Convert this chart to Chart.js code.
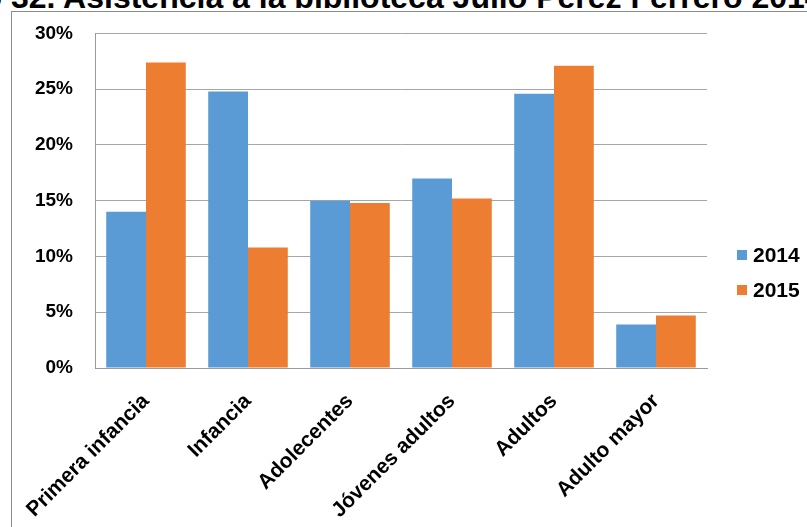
<!DOCTYPE html>
<html>
<head>
<meta charset="utf-8">
<script src="https://cdn.jsdelivr.net/npm/chart.js@4/dist/chart.umd.min.js"></script>
<style>
    html, body { margin: 0; padding: 0; background: #fff; overflow: hidden; }
    #wrap { position: relative; width: 807px; height: 527px; overflow: hidden; }
    #frame { position: absolute; left: 11px; top: 11px; width: 900px; height: 600px; border: 1px solid #8c8c8c; }
    #title { position: absolute; left: -110px; top: -21px; line-height: 32px; white-space: nowrap;
             font: bold 32px "Liberation Sans", Arial, sans-serif; color: #000; }
    #chart { position: absolute; left: 0; top: 0; }
</style>
</head>
<body>
<div id="wrap">
    <div id="title">Gráfico 32. Asistencia a la biblioteca Julio Pérez Ferrero 2014-2015</div>
    <div id="frame"></div>
    <canvas id="chart" width="807" height="527"></canvas>
</div>
<script>
/* global Chart */

var categories = ['Primera infancia', 'Infancia', 'Adolecentes', 'Jóvenes adultos', 'Adultos', 'Adulto mayor'];
var seriesNames = ['2014', '2015'];
var values2014 = [14.0, 24.8, 15.0, 17.0, 24.6, 3.9];
var values2015 = [27.4, 10.8, 14.8, 15.2, 27.1, 4.7];
var yTicks = [0, 5, 10, 15, 20, 25, 30];

var blue = '#5B9BD5';
var orange = '#ED7D31';
var fontFamily = '"Liberation Sans", Arial, sans-serif';

// legend drawn by hand so it can sit where the original one sits
var sideLegend = {
    id: 'sideLegend',
    afterDraw: function (chart) {
        var ctx = chart.ctx;
        var rows = [255, 290];
        ctx.save();
        ctx.font = 'bold 21px ' + fontFamily;
        ctx.textBaseline = 'middle';
        chart.data.datasets.forEach(function (ds, i) {
            ctx.fillStyle = ds.backgroundColor;
            ctx.fillRect(737, rows[i] - 5, 10, 10);
            ctx.fillStyle = '#000';
            ctx.fillText(ds.label, 753, rows[i] + 1);
        });
        ctx.restore();
    }
};

var config = {
    type: 'bar',
    data: {
        labels: categories,
        datasets: [{
            label: seriesNames[0],
            data: values2014,
            backgroundColor: blue
        }, {
            label: seriesNames[1],
            data: values2015,
            backgroundColor: orange
        }]
    },
    options: {
        responsive: false,
        animation: false,
        layout: { padding: { left: 0, right: 100, top: 33, bottom: 0 } },
        datasets: { bar: { categoryPercentage: 0.78, barPercentage: 1.0 } },
        plugins: {
            legend: { display: false },
            tooltip: { enabled: false }
        },
        scales: {
            x: {
                grid: { display: false },
                border: { display: true, color: '#9a9a9a', width: 1 },
                ticks: {
                    color: '#000',
                    font: { family: fontFamily, size: 21, weight: 'bold' },
                    minRotation: 45,
                    maxRotation: 45,
                    padding: 13
                },
                afterFit: function (scale) { scale.height = 159; }
            },
            y: {
                min: 0,
                max: 30,
                afterBuildTicks: function (scale) {
                    scale.ticks = yTicks.map(function (v) { return { value: v }; });
                },
                grid: { color: '#a6a6a6', lineWidth: 1, drawTicks: false },
                border: { display: true, color: '#9a9a9a', width: 1 },
                ticks: {
                    color: '#000',
                    padding: 22,
                    font: { family: fontFamily, size: 19, weight: 'bold' },
                    callback: function (v) { return v + '%'; }
                },
                afterFit: function (scale) { scale.width = 95; }
            }
        }
    },
    plugins: [sideLegend]
};

new Chart(document.getElementById('chart').getContext('2d'), config);
</script>
</body>
</html>
